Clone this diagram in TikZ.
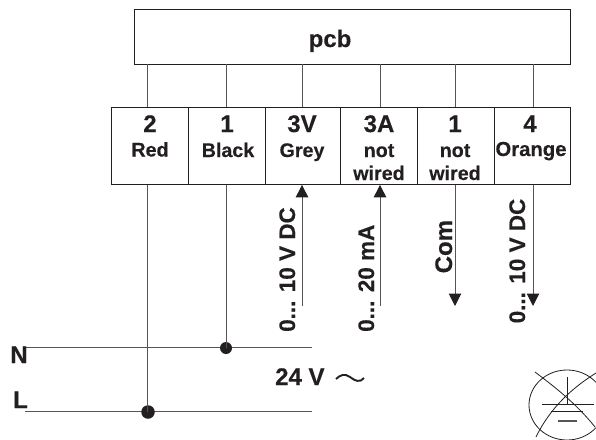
\documentclass[tikz,border=0pt]{standalone}
\usepackage{fontspec}
\setmainfont[BoldFeatures={FakeBold=0.35}]{Liberation Sans}
\definecolor{ink}{HTML}{231F20}
\definecolor{wire}{HTML}{555555}
\usetikzlibrary{arrows.meta}
\tikzset{
  x=1pt,y=-1pt,
  boxed/.style={draw=ink,line width=0.9pt,inner sep=0pt,anchor=north west},
  wireline/.style={draw=wire,line width=1pt},
  big/.style={font=\fontsize{24}{24}\bfseries\selectfont,text=ink,inner sep=0pt,anchor=base},
  small/.style={font=\fontsize{19.7}{19.7}\bfseries\selectfont,text=ink,inner sep=0pt,anchor=base},
  rot/.style={font=\fontsize{22.5}{22.5}\bfseries\selectfont,text=ink,inner sep=0pt,anchor=base west,rotate=90},
  junction/.style={circle,fill=ink,inner sep=0pt,minimum size=#1},
  headed/.style={wireline,-{Triangle[length=12.5pt,width=12.5pt,color=ink]}},
  symb/.style={draw=ink,line width=0.8pt},
}
\begin{document}
\begin{tikzpicture}
\path[use as bounding box] (0,0) rectangle (596,439);
\node[boxed,minimum width=436pt,minimum height=54.5pt] (pcb) at (133.5,9) {};
\node[big] (pcbt) at (330,47) {pcb};
\foreach \n/\l/\r in {a/111/188,b/188/265,c/265/340,d/340/417,e/417/494,f/494/569.5}{
  \pgfmathsetmacro\w{\r-\l}
  \node[boxed,minimum width=\w pt,minimum height=77pt] (\n) at (\l,107) {};
}
\coordinate (sa) at (147,0); \coordinate (sb) at (226,0); \coordinate (sc) at (302,0);
\coordinate (sd) at (380,0); \coordinate (se) at (455,0); \coordinate (sf) at (533,0);
\foreach \n in {a,b,c,d,e,f}{ \draw[wireline] (s\n |- pcb.south) -- (s\n |- \n.north); }
% cell texts
\node[big] (a1) at (150,132) {2}; \node[small] (a2) at (150,156.5) {Red};
\node[big] (b1) at (227,132) {1}; \node[small] (b2) at (228,157) {Black};
\node[big] (c1) at (302,132) {3V}; \node[small] (c2) at (302,157) {Grey};
\node[big] (d1) at (379,132) {3A}; \node[small] (d2) at (379,157) {not}; \node[small] (d3) at (379,180) {wired};
\node[big] (e1) at (455,132) {1}; \node[small] (e2) at (455,157) {not}; \node[small] (e3) at (455,180) {wired};
\node[big] (f1) at (530,132) {4}; \node[small,font=\fontsize{20.3}{20.3}\bfseries\selectfont] (f2) at (531,156) {Orange};
% mains
\coordinate (Nl) at (25,347.5); \coordinate (Nr) at (312,347.5);
\coordinate (Ll) at (25,411.5); \coordinate (Lr) at (312,411.5);
\draw[wireline] (Nl) -- (Nr);
\draw[wireline] (Ll) -- (Lr);
\node[junction=12pt] (jn) at (226,348) {};
\node[junction=13.5pt] (jl) at (148,412) {};
\draw[wireline] (sa |- a.south) -- (sa |- jl);
\draw[wireline] (sb |- b.south) -- (sb |- jn);
\node[big] (N) at (19,363) {N};
\node[big] (L) at (20.5,408) {L};
\node[big,anchor=base west] (v) at (275,385) {24 V};
\draw[ink,line width=1.9pt] (336,379) .. controls (340,375) and (345,373) .. (350,377) .. controls (355,381) and (360,383) .. (364,378);
% signals
\coordinate (c0) at (302,306); \coordinate (d0) at (380,306);
\coordinate (e0) at (455,306); \coordinate (f0) at (533,306);
\draw[headed] (c0) -- (sc |- c.south);
\draw[headed] (d0) -- (sd |- d.south);
\draw[headed] (se |- e.south) -- (e0);
\draw[headed] (sf |- f.south) -- (f0);
\node[rot] (r1) at (295,332) {0... 10 V DC};
\node[rot] (r2) at (374,332) {0... 20 mA};
\node[rot] (r3) at (452,273.5) {\fontsize{24}{24}\selectfont Com};
\node[rot] (r4) at (525,323.5) {0... 10 V DC};
% symbol
\begin{scope}
\clip (0,0) rectangle (596,439);
\draw[symb] (567,405) ellipse [x radius=38,y radius=35];
\draw[symb] (535,372) .. controls (552,385) and (575,402) .. (595,427);
\draw[symb] (596,373) .. controls (572,388) and (550,408) .. (536,437);
\draw[symb] (567,377) -- (567,404);
\draw[symb] (542,404) -- (594,404);
\draw[symb] (551,411) -- (583,411);
\draw[draw=wire,line width=1.2pt] (558,421) -- (577,421);
\end{scope}
\end{tikzpicture}
\end{document}
